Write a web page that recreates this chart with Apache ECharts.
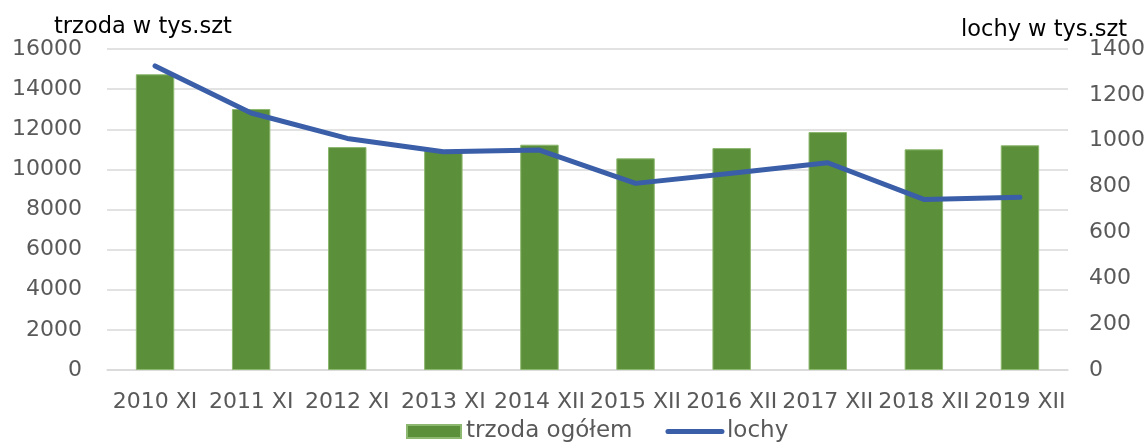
<!DOCTYPE html>
<html><head><meta charset="utf-8">
<script src="https://cdn.jsdelivr.net/npm/echarts@6/dist/echarts.min.js"></script>
<style>html,body{margin:0;padding:0;background:#fff}#c{width:1148px;height:443px}</style>
</head><body><div id="c"></div>
<script>
const categories = ['2010 XI','2011 XI','2012 XI','2013 XI','2014 XII','2015 XII','2016 XII','2017 XII','2018 XII','2019 XII'];
const trzoda = [14740, 13010, 11110, 10950, 11230, 10550, 11060, 11860, 11000, 11200];
const lochy = [1326, 1121, 1010, 952, 959, 814, 858, 904, 744, 753];
const leftTicks = [0, 16000, 2000];
const rightTicks = [0, 1400, 200];
const FONT = 'DejaVu Sans';
const chart = echarts.init(document.getElementById('c'));
chart.setOption({
  animation: false,
  textStyle: {fontFamily: FONT},
  grid: {left: 107, right: 75, top: 49, bottom: 73},
  legend: {
    bottom: -5, left: 401, itemGap: 33, itemWidth: 54, itemHeight: 13,
    textStyle: {fontSize: 23, color: '#595959', fontFamily: FONT},
    data: [{name: 'trzoda ogółem', icon: 'rect'},
           {name: 'lochy', itemStyle: {opacity: 0}, lineStyle: {width: 5, cap: 'round', color: '#3a5ea8'}}]
  },
  xAxis: {
    type: 'category', data: categories,
    axisTick: {show: false},
    axisLine: {lineStyle: {color: '#d9d9d9', width: 1.5}},
    axisLabel: {color: '#595959', fontSize: 22, margin: 21, interval: 0, fontFamily: FONT}
  },
  yAxis: [
    {type: 'value', min: leftTicks[0], max: leftTicks[1], interval: leftTicks[2],
     axisLabel: {color: '#595959', fontSize: 22, margin: 25, fontFamily: FONT, formatter: v => String(v)},
     splitLine: {lineStyle: {color: '#d9d9d9', width: 1.5}},
     axisLine: {show: false}, axisTick: {show: false}},
    {type: 'value', min: rightTicks[0], max: rightTicks[1], interval: rightTicks[2], position: 'right',
     axisLabel: {color: '#595959', fontSize: 22, margin: 21, fontFamily: FONT, formatter: v => String(v)},
     splitLine: {show: false}, axisLine: {show: false}, axisTick: {show: false}}
  ],
  graphic: [
    {type: 'text', left: 54, top: 16, style: {text: 'trzoda w tys.szt', fontSize: 22.5, fill: '#000', fontFamily: FONT}},
    {type: 'text', left: 961, top: 19, style: {text: 'lochy w tys.szt', fontSize: 22.5, fill: '#000', fontFamily: FONT}}
  ],
  series: [
    {name: 'trzoda ogółem', type: 'bar', data: trzoda, barWidth: '40%', yAxisIndex: 0,
     itemStyle: {color: '#5b8f3a', borderColor: '#8db86f', borderWidth: 1}},
    {name: 'lochy', type: 'line', data: lochy, yAxisIndex: 1, symbol: 'none', showSymbol: false,
     lineStyle: {color: '#3a5ea8', width: 5, cap: 'round', join: 'round'}, itemStyle: {color: '#3a5ea8'}}
  ]
});
</script></body></html>
